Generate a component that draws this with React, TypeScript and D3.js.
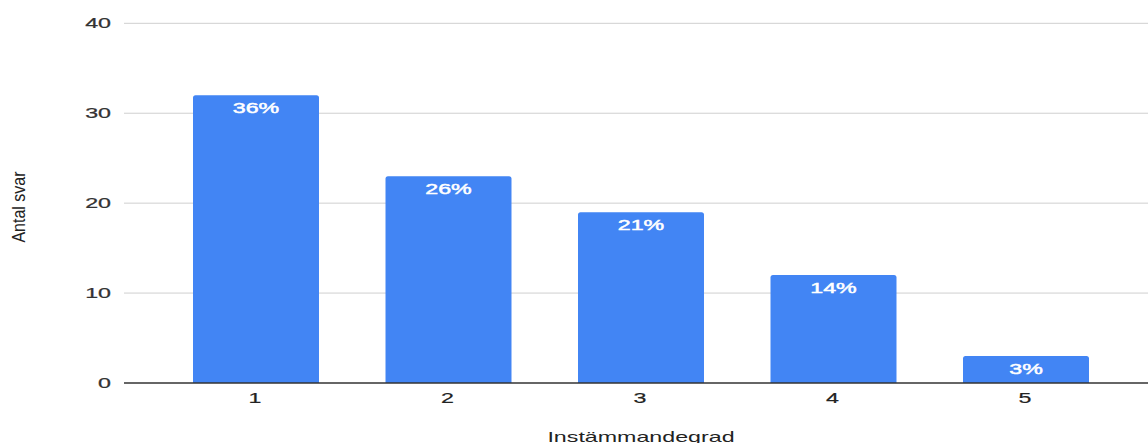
import React from "react";
import * as d3 from "d3";

// Survey responses per agreement level
const categories: string[] = ["1", "2", "3", "4", "5"];
const counts: number[] = [32, 23, 19, 12, 3];
const percentLabels: string[] = ["36%", "26%", "21%", "14%", "3%"];
const yTicks: number[] = [0, 10, 20, 30, 40];

const xTitle = "Instämmandegrad";
const yTitle = "Antal svar";

const W = 1148;
const H = 443;
const STRETCH = 1.66; // wide horizontal lettering
const FONT = "Arial, 'Liberation Sans', sans-serif";

export default function App() {
  const x = d3
    .scaleBand<string>()
    .domain(categories)
    .range([159.75, 1122.25])
    .paddingInner(0.3455)
    .paddingOuter(0.17275);

  const y = d3.scaleLinear().domain([0, 40]).range([383, 23.3]);

  const barPath = (x0: number, y0: number, w: number, h: number, r: number) =>
    `M${x0},${y0 + h}V${y0 + r}Q${x0},${y0} ${x0 + r},${y0}H${x0 + w - r}Q${x0 + w},${y0} ${x0 + w},${y0 + r}V${y0 + h}Z`;

  return (
    <svg
      width={W}
      height={H}
      style={{ position: "absolute", left: 0, top: 0, background: "#fff" }}
      fontFamily={FONT}
    >
      {/* gridlines */}
      {yTicks
        .filter((t) => t !== 0)
        .map((t) => (
          <line key={t} x1={124} x2={W} y1={y(t)} y2={y(t)} stroke="#cfcfcf" strokeWidth={1} />
        ))}
      {/* y tick labels */}
      {yTicks.map((t) => (
        <text
          key={`yl${t}`}
          transform={`translate(111,${y(t) + 5}) scale(${STRETCH},1)`}
          textAnchor="end"
          fontSize={14}
          fill="#333"
          stroke="#333"
          strokeWidth={0.25}
        >
          {t}
        </text>
      ))}
      {/* bars */}
      {categories.map((c, i) => {
        const bx = x(c)!;
        const by = y(counts[i]);
        return (
          <path
            key={`b${c}`}
            d={barPath(bx, by, x.bandwidth(), y(0) - by, 2.5)}
            fill="#4285F4"
          />
        );
      })}
      {/* value labels */}
      {categories.map((c, i) => (
        <text
          key={`v${c}`}
          transform={`translate(${x(c)! + x.bandwidth() / 2},${y(counts[i]) + 17.5}) scale(${STRETCH},1)`}
          textAnchor="middle"
          fontSize={14}
          fill="#fff"
          stroke="#fff"
          strokeWidth={0.45}
        >
          {percentLabels[i]}
        </text>
      ))}
      {/* baseline */}
      <line x1={124} x2={W} y1={y(0)} y2={y(0)} stroke="#333" strokeWidth={1.3} />
      {/* x tick labels */}
      {categories.map((c) => (
        <text
          key={`xl${c}`}
          transform={`translate(${x(c)! + x.bandwidth() / 2 - 1},403) scale(${STRETCH},1)`}
          textAnchor="middle"
          fontSize={14}
          fill="#222"
          stroke="#222"
          strokeWidth={0.2}
        >
          {c}
        </text>
      ))}
      {/* axis titles */}
      <text
        transform={`translate(641,441.5) scale(${STRETCH},1)`}
        textAnchor="middle"
        fontSize={14}
        fill="#222"
      >
        {xTitle}
      </text>
      <text
        transform={`translate(25,207) scale(1.15,1) rotate(-90)`}
        textAnchor="middle"
        fontSize={16}
        fill="#222"
      >
        {yTitle}
      </text>
    </svg>
  );
}
